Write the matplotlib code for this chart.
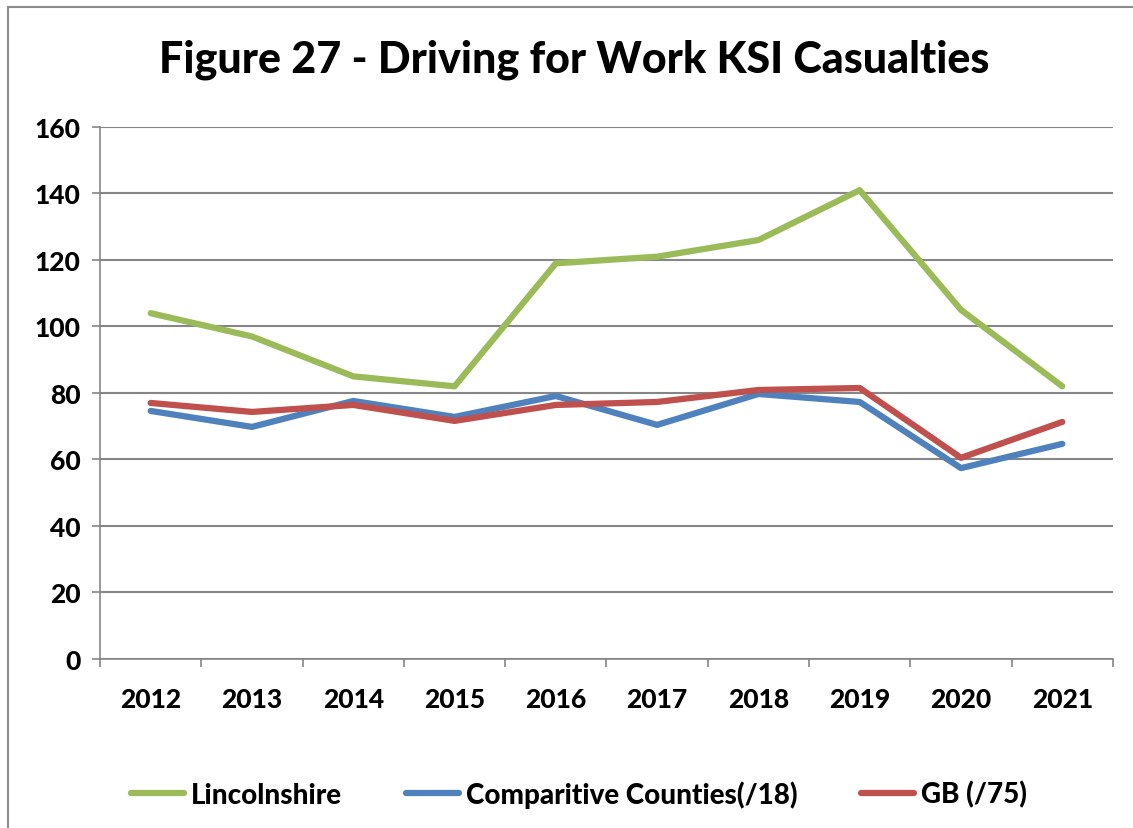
import matplotlib.pyplot as plt
from matplotlib.patches import Rectangle

plt.rcParams['font.family'] = ['Lato', 'DejaVu Sans']
plt.rcParams['font.weight'] = 'bold'

years = ["2012", "2013", "2014", "2015", "2016", "2017", "2018", "2019", "2020", "2021"]
lincs = [104, 97, 85, 82, 119, 121, 126, 141, 105, 82]
comp = [74.6, 69.8, 77.6, 72.8, 79.1, 70.4, 79.7, 77.3, 57.4, 64.7]
gb = [77.0, 74.3, 76.4, 71.6, 76.4, 77.3, 80.9, 81.5, 60.5, 71.3]

fig = plt.figure(figsize=(11.33, 8.29), dpi=100)
ax = fig.add_axes([0.0883, 0.2039, 0.894, 0.6417])

# cadre gris autour du graphique
fig.patches.append(Rectangle((0.007, -0.01), 1.1, 1.0, transform=fig.transFigure,
                             fill=False, edgecolor='#8c8c8c', linewidth=1.5))

x = list(range(len(years)))
ax.plot(x, lincs, color='#9bbb59', lw=4.5, label="Lincolnshire", solid_capstyle='round')
ax.plot(x, comp, color='#4f81bd', lw=4.5, label="Comparitive Counties(/18)", solid_capstyle='round')
ax.plot(x, gb, color='#c0504d', lw=4.5, label="GB (/75)", solid_capstyle='round')

ax.set_xlim(-0.5, 9.5)
ax.set_ylim(0, 160)
ax.set_yticks(range(0, 161, 20))
ax.set_xticks(x)
ax.set_xticklabels(years, fontweight='black')
ax.set_yticklabels([str(v) for v in range(0, 161, 20)], fontweight='black')
ax.set_xticks([i - 0.5 for i in range(11)], minor=True)
ax.tick_params(axis='x', which='major', length=0, pad=20, labelsize=19)
ax.tick_params(axis='x', which='minor', length=6, color='#868686', width=1.2)
ax.tick_params(axis='y', length=6, color='#868686', width=1.2, labelsize=19, pad=8)
ax.grid(axis='y', color='#868686', lw=1.5)
ax.set_axisbelow(True)
for s in ['top', 'right']:
    ax.spines[s].set_visible(False)
ax.spines['left'].set_color('#868686')
ax.spines['bottom'].set_color('#868686')
ax.spines['left'].set_linewidth(1.2)
ax.spines['bottom'].set_linewidth(1.2)

fig.text(0.507, 0.928, "Figure 27 - Driving for Work KSI Casualties", ha='center', va='center',
         fontsize=31, fontweight='black')

fig.legend(loc='center', bbox_to_anchor=(0.511, 0.041), ncol=3, frameon=False,
           prop={'size': 20, 'weight': 'black'}, handlelength=1.9,
           columnspacing=2.3, handletextpad=0.25)

fig.savefig("out.png", dpi=100)
